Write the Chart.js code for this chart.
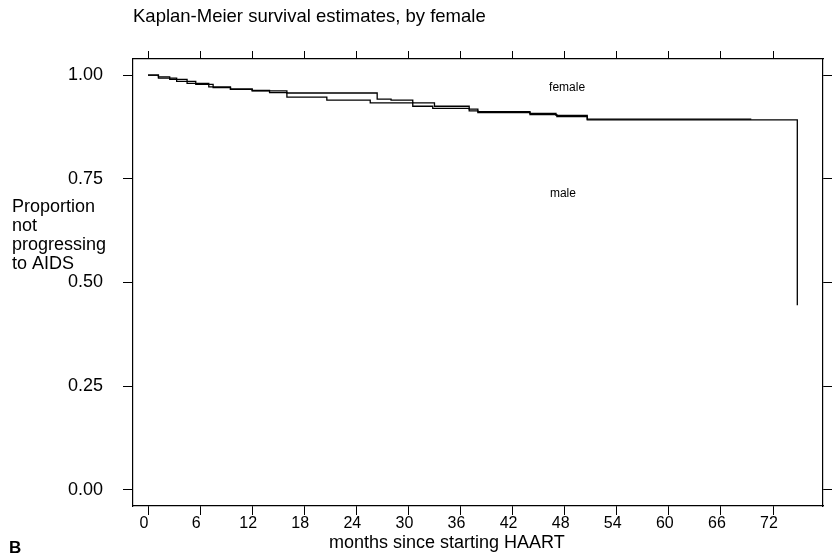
<!DOCTYPE html>
<html><head><meta charset="utf-8">
<script src="https://cdn.jsdelivr.net/npm/chart.js@4/dist/chart.umd.min.js"></script>
<style>html,body{margin:0;padding:0;background:#fff}canvas{display:block}</style>
</head><body>
<canvas id="c" width="836" height="554"></canvas>
<script>
// ---- data ----
const femaleMonths = [0, 1.2, 3.3, 5.5, 7.5, 9.5, 12, 16, 26.4, 28, 30.5, 33, 37, 38, 44, 47, 50.6, 69.5];
const femaleSurv   = [1.0, 0.993, 0.985, 0.978, 0.970, 0.966, 0.962, 0.957, 0.942, 0.940, 0.933, 0.925, 0.918, 0.912, 0.908, 0.903, 0.894, 0.894];
const maleMonths   = [0, 1.2, 2.5, 4.5, 7, 9.5, 12, 14, 16, 20.6, 25.6, 30.5, 32.8, 37, 38, 44, 47.1, 50.6, 74.8, 74.8];
const maleSurv     = [1.0, 0.996, 0.990, 0.980, 0.972, 0.966, 0.963, 0.958, 0.947, 0.940, 0.933, 0.925, 0.920, 0.914, 0.910, 0.905, 0.900, 0.892, 0.892, 0.445];
const xTickValues  = [0, 6, 12, 18, 24, 30, 36, 42, 48, 54, 60, 66, 72];
const yTickValues  = [0, 0.25, 0.5, 0.75, 1];
const titleText    = "Kaplan-Meier survival estimates, by female";
const xTitleText   = "months since starting HAART";
const yTitleLines  = ["Proportion", "not", "progressing", "to AIDS"];
const groupLabels  = [{text: "female", x: 46.2, y: 0.969}, {text: "male", x: 46.3, y: 0.714}];
const panelLetter  = "B";

const FONT = "'Liberation Sans', Arial, sans-serif";
const pts = (xs, ys) => xs.map((x, i) => ({x: x, y: ys[i]}));

const textPlugin = {
  id: 'texts',
  afterDraw(chart) {
    const ctx = chart.ctx;
    const xs = chart.scales.x, ys = chart.scales.y;
    ctx.save();
    ctx.fillStyle = '#000';
    ctx.textAlign = 'left';
    ctx.textBaseline = 'middle';
    ctx.font = '18.5px ' + FONT;
    ctx.fillText(titleText, 133, 17);
    ctx.font = '18px ' + FONT;
    ctx.fillText(xTitleText, 329, 543);
    ctx.textBaseline = 'alphabetic';
    yTitleLines.forEach((t, i) => ctx.fillText(t, 12, 212 + i * 19));
    ctx.font = 'bold 17px ' + FONT;
    ctx.fillText(panelLetter, 9, 553);
    ctx.textBaseline = 'middle';
    ctx.font = '12px ' + FONT;
    groupLabels.forEach(g => ctx.fillText(g.text, xs.getPixelForValue(g.x), ys.getPixelForValue(g.y)));
    ctx.restore();
  }
};

const axisCommon = {
  grid: {display: true, drawOnChartArea: false, drawTicks: true, color: '#000', lineWidth: 1},
  border: {display: true, color: '#000', width: 1.2}
};

new Chart(document.getElementById('c'), {
  type: 'line',
  data: {
    datasets: [
      {label: 'female', data: pts(femaleMonths, femaleSurv), borderColor: '#000', borderWidth: 1.3, pointRadius: 0, stepped: true, fill: false},
      {label: 'male', data: pts(maleMonths, maleSurv), borderColor: '#000', borderWidth: 1.3, pointRadius: 0, stepped: true, fill: false}
    ]
  },
  options: {
    responsive: false,
    animation: false,
    layout: {padding: 0},
    plugins: {legend: {display: false}, tooltip: {enabled: false}, title: {display: false}},
    scales: {
      x: {
        type: 'linear', position: 'bottom', min: -1.73, max: 77.76,
        afterBuildTicks: s => { s.ticks = xTickValues.map(v => ({value: v})); },
        afterFit: s => { s.height = 48; },
        ticks: {color: '#000', font: {family: FONT, size: 16}, padding: -1, labelOffset: -4, maxRotation: 0, autoSkip: false},
        grid: Object.assign({}, axisCommon.grid, {tickLength: 9}),
        border: axisCommon.border
      },
      x2: {
        type: 'linear', position: 'top', min: -1.73, max: 77.76,
        afterBuildTicks: s => { s.ticks = xTickValues.map(v => ({value: v})); },
        afterFit: s => { s.height = 59; },
        ticks: {display: false},
        grid: Object.assign({}, axisCommon.grid, {tickLength: 8}),
        border: axisCommon.border
      },
      y: {
        type: 'linear', position: 'left', min: -0.039, max: 1.039,
        afterBuildTicks: s => { s.ticks = yTickValues.map(v => ({value: v})); },
        afterFit: s => { s.width = 133; },
        ticks: {color: '#000', font: {family: FONT, size: 18}, padding: 20, callback: v => Number(v).toFixed(2)},
        grid: Object.assign({}, axisCommon.grid, {tickLength: 10}),
        border: axisCommon.border
      },
      y2: {
        type: 'linear', position: 'right', min: -0.039, max: 1.039,
        afterBuildTicks: s => { s.ticks = yTickValues.map(v => ({value: v})); },
        afterFit: s => { s.width = 13; },
        ticks: {display: false},
        grid: Object.assign({}, axisCommon.grid, {tickLength: 9}),
        border: axisCommon.border
      }
    }
  },
  plugins: [textPlugin]
});
</script>
</body></html>
